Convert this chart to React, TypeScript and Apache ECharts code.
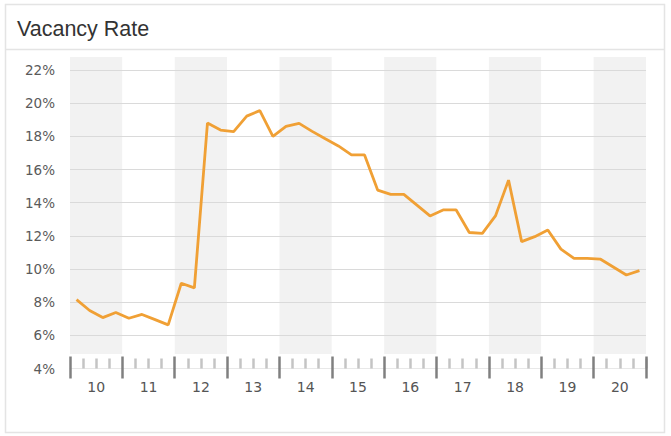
import React, { useEffect, useRef } from "react";
import * as echarts from "echarts";

const years = ["10", "11", "12", "13", "14", "15", "16", "17", "18", "19", "20"];
const quarters = years.flatMap((y) => ["Q1", "Q2", "Q3", "Q4"].map((q) => `20${y} ${q}`));
const vacancy = [
  8.15, 7.5, 7.07, 7.38,
  7.03, 7.26, 6.95, 6.63,
  9.14, 8.86, 18.8, 18.38,
  18.28, 19.22, 19.55, 18.0,
  18.6, 18.78, 18.3, 17.85,
  17.42, 16.88, 16.88, 14.76,
  14.5, 14.5, 13.85, 13.2,
  13.56, 13.56, 12.2, 12.15,
  13.2, 15.36, 11.65, 11.95,
  12.35, 11.2, 10.64, 10.64,
  10.6, 10.12, 9.64, 9.9,
];
const yTicks = { min: 4, max: 22, interval: 2 };
const title = "Vacancy Rate";

export default function App() {
  const ref = useRef<HTMLDivElement>(null);
  useEffect(() => {
    if (!ref.current) return;
    const chart = echarts.init(ref.current, null, { renderer: "svg" });
    const gridColors = [
      "#ececec", "#dadada", "#dadada", "#dadada", "#dadada",
      "#dadada", "#dadada", "#dadada", "#dadada", "#dadada",
    ];
    chart.setOption({
      animation: false,
      backgroundColor: "#ffffff",
      graphic: [
        {
          type: "rect",
          z: -10,
          shape: { x: 5.5, y: 4.5, width: 659, height: 428 },
          style: { fill: "#ffffff", stroke: "#e4e4e4", lineWidth: 1.5 },
          silent: true,
        },
        {
          type: "line",
          shape: { x1: 5.5, y1: 49.5, x2: 664.5, y2: 49.5 },
          style: { stroke: "#e4e4e4", lineWidth: 1.5 },
          silent: true,
        },
        {
          type: "text",
          x: 17,
          y: 29,
          style: {
            text: title,
            fill: "#333333",
            font: "21.5px 'Liberation Sans', Arial, sans-serif",
            verticalAlign: "middle",
            align: "left",
          },
          silent: true,
        },
      ],
      grid: [
        { left: 70, right: 25, top: 70, bottom: 67.5 },
        { left: 70, right: 25, top: 57, bottom: 82 },
      ],
      xAxis: [
        {
          type: "category",
          gridIndex: 0,
          data: years,
          position: "bottom",
          offset: -12,
          boundaryGap: true,
          axisLine: { show: false },
          axisTick: {
            show: true,
            interval: 0,
            inside: false,
            length: 22,
            lineStyle: { color: "#808080", width: 2.5 },
          },
          axisLabel: {
            show: true,
            interval: 0,
            margin: 23,
            color: "#555555",
            fontSize: 14,
            fontFamily: "'DejaVu Sans', sans-serif",
          },
          splitLine: { show: false },
          z: 3,
        },
        {
          type: "category",
          gridIndex: 0,
          data: quarters,
          position: "bottom",
          boundaryGap: true,
          axisLine: { show: true, lineStyle: { color: "#e8e8e8", width: 1 } },
          axisTick: {
            show: true,
            inside: true,
            length: 10,
            interval: (idx: number) => idx % 4 !== 0,
            lineStyle: { color: "#c4c4c4", width: 2.5 },
          },
          axisLabel: { show: false },
          splitLine: { show: false },
          z: 2,
        },
        {
          type: "category",
          gridIndex: 1,
          data: years,
          boundaryGap: true,
          axisLine: { show: false },
          axisTick: { show: false },
          axisLabel: { show: false },
          splitLine: { show: false },
          splitArea: {
            show: true,
            interval: 0,
            areaStyle: { color: ["#f2f2f2", "#ffffff"] },
          },
          z: -1,
        },
      ],
      yAxis: [
        {
          type: "value",
          gridIndex: 0,
          min: yTicks.min,
          max: yTicks.max,
          interval: yTicks.interval,
          axisLine: { show: false },
          axisTick: { show: false },
          axisLabel: {
            formatter: "{value}%",
            margin: 15,
            color: "#5a5a5a",
            fontSize: 13.5,
            fontFamily: "'DejaVu Sans', sans-serif",
          },
          splitLine: { show: true, lineStyle: { color: gridColors, width: 1 } },
          z: 1,
        },
        {
          type: "value",
          gridIndex: 1,
          show: false,
          splitLine: { show: false },
        },
      ],
      series: [
        {
          type: "line",
          xAxisIndex: 1,
          yAxisIndex: 0,
          data: vacancy,
          symbol: "none",
          lineStyle: { color: "#f0a035", width: 2.8 },
          itemStyle: { color: "#f0a035" },
          z: 5,
        },
      ],
    });
    return () => chart.dispose();
  }, []);
  return (
    <div
      ref={ref}
      style={{ position: "fixed", left: 0, top: 0, width: 671, height: 436 }}
    />
  );
}
